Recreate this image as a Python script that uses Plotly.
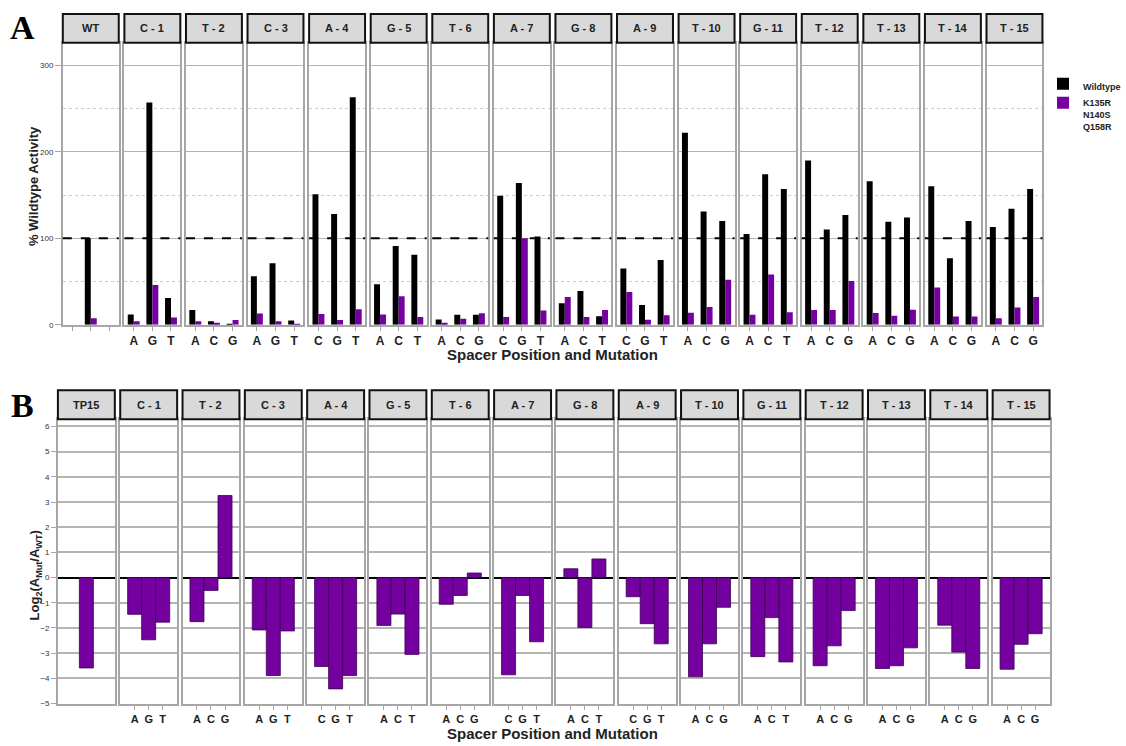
import plotly.graph_objects as go

# ---- data -------------------------------------------------------------
panels_a = ["WT", "C - 1", "T - 2", "C - 3", "A - 4", "G - 5", "T - 6", "A - 7",
            "G - 8", "A - 9", "T - 10", "G - 11", "T - 12", "T - 13", "T - 14", "T - 15"]
panels_b = ["TP15"] + panels_a[1:]

mutations = [["", "", ""],
             ["A", "G", "T"], ["A", "C", "G"], ["A", "G", "T"], ["C", "G", "T"],
             ["A", "C", "T"], ["A", "C", "G"], ["C", "G", "T"], ["A", "C", "T"],
             ["C", "G", "T"], ["A", "C", "G"], ["A", "C", "T"], ["A", "C", "G"],
             ["A", "C", "G"], ["A", "C", "G"], ["A", "C", "G"]]

# % wildtype activity of the wildtype enzyme
wildtype_activity = [[100],
                     [12, 257, 31], [17, 4, 0.5], [56, 71, 5], [151, 128, 263],
                     [47, 91, 81], [6, 11.5, 11.5], [149, 164, 102], [25, 39, 10],
                     [65, 23, 75], [222, 131, 120], [105, 174, 157], [190, 110, 127],
                     [166, 119, 124], [160, 77, 120], [113, 134, 157]]

# % wildtype activity of the K135R/N140S/Q158R variant
variant_activity = [[7.5],
                    [4, 46, 8.5], [4, 2.3, 5.5], [13, 4, 1], [12.5, 5.5, 18],
                    [12, 33, 9], [2.3, 7, 13.4], [9, 100, 16.5], [32, 9, 17],
                    [38, 5.7, 11], [14, 20.5, 52], [11.5, 58, 14.5], [17, 17, 50.5],
                    [13.5, 10.5, 17.5], [43, 9.5, 9.5], [7.5, 20, 32]]

# log2(A_mut / A_wt)
log2_ratio = [[-3.59],
              [-1.46, -2.47, -1.77], [-1.75, -0.51, 3.26], [-2.08, -3.89, -2.12],
              [-3.53, -4.42, -3.89], [-1.90, -1.45, -3.05], [-1.06, -0.71, 0.18],
              [-3.86, -0.71, -2.55], [0.35, -1.98, 0.74], [-0.76, -1.83, -2.63],
              [-3.94, -2.63, -1.18], [-3.14, -1.59, -3.35], [-3.50, -2.71, -1.31],
              [-3.61, -3.50, -2.79], [-1.89, -2.96, -3.61], [-3.64, -2.65, -2.23]]

series_names = ["Wildtype", "K135R<br>N140S<br>Q158R"]
y_ticks_a = [0, 100, 200, 300]
y_ticks_b = list(range(-5, 7))

# ---- styling / geometry ----------------------------------------------
W, H = 1126, 746
BLACK = "#000000"
PURPLE = "#7400A0"
GRID = "#b4b4b4"
FRAME = "#a6a6a6"
STRIP_FILL = "#d9d9d9"
FONT = "Liberation Sans, Arial, sans-serif"

A_X0, A_STEP, A_W = 64, 62.75, 57
A_TOP, A_BOT = 43, 327
A_STRIP = (14, 43)
B_X0, B_STEP, B_W = 59, 63.5, 58
B_TOP, B_BOT = 422, 709
B_STRIP = (393, 422)


def px_x(p):
    return p / W


def px_y(p):
    return 1 - p / H


def label(x, y, text, font, angle=0):
    """Centred paper-space text placed at pixel coordinates."""
    return dict(xref="paper", yref="paper", x=px_x(x), y=px_y(y),
                xanchor="center", yanchor="middle", text=text,
                showarrow=False, font=font, textangle=angle)


fig = go.Figure()
layout = {}
shapes = []
annotations = []
n_panels = len(panels_a)
strip_font = dict(family=FONT, size=11, color="#222")


def axis_names(n):
    return ("x" if n == 1 else f"x{n}", "y" if n == 1 else f"y{n}")


# ---- panel A: activity bars ------------------------------------------
for i in range(n_panels):
    n = i + 1
    xr, yr = axis_names(n)
    positions = [1] if i == 0 else list(range(len(mutations[i])))
    for name, vals, col in ((series_names[0], wildtype_activity[i], BLACK),
                            (series_names[1], variant_activity[i], PURPLE)):
        fig.add_trace(go.Bar(
            x=positions, y=vals, name=name, xaxis=xr, yaxis=yr,
            marker=dict(color=col, line=dict(width=0)),
            legendgroup=name, showlegend=(i == 0), hoverinfo="x+y",
        ))
    x0 = A_X0 + i * A_STEP
    layout[f"xaxis{n}"] = dict(
        domain=[px_x(x0), px_x(x0 + A_W)], range=[-0.5, 2.5], anchor=yr,
        tickvals=[0, 1, 2], ticktext=mutations[i], ticks="outside", ticklen=4,
        tickcolor=FRAME, showgrid=False, zeroline=False,
        showline=True, mirror=True, linecolor=FRAME, linewidth=1.5,
        tickfont=dict(family=FONT, size=12, color="#222", weight="bold"),
        fixedrange=True,
    )
    layout[f"yaxis{n}"] = dict(
        domain=[px_y(A_BOT), px_y(A_TOP)], range=[0, 326], anchor=xr,
        tickvals=y_ticks_a, showticklabels=(i == 0),
        ticks="outside" if i == 0 else "", ticklen=6, tickcolor=FRAME,
        tickfont=dict(family=FONT, size=8, color="#333"),
        showgrid=True, gridcolor=GRID, gridwidth=1.2,
        minor=dict(dtick=50, tick0=0, showgrid=True, gridcolor="#cccccc",
                   griddash="dot", gridwidth=1),
        zeroline=False, showline=True, mirror=True, linecolor=FRAME,
        linewidth=1.5, fixedrange=True,
    )
    # reference level at 100 %
    shapes.append(dict(type="line", xref=f"{xr} domain", yref=yr,
                       x0=0, x1=1, y0=100, y1=100,
                       line=dict(color=BLACK, width=2, dash="dash")))
    # facet strip
    shapes.append(dict(type="rect", xref="paper", yref="paper",
                       x0=px_x(x0), x1=px_x(x0 + A_W),
                       y0=px_y(A_STRIP[1]), y1=px_y(A_STRIP[0]),
                       fillcolor=STRIP_FILL, line=dict(color="#111", width=2)))
    annotations.append(label(x0 + A_W / 2, sum(A_STRIP) / 2,
                             f"<b>{panels_a[i]}</b>", strip_font))

# ---- panel B: log2 ratio bars ----------------------------------------
for i in range(n_panels):
    n = n_panels + i + 1
    xr, yr = axis_names(n)
    positions = [1] if i == 0 else list(range(len(mutations[i])))
    fig.add_trace(go.Bar(
        x=positions, y=log2_ratio[i], width=1.0, xaxis=xr, yaxis=yr,
        marker=dict(color=PURPLE, line=dict(width=0.8, color="#3a0050")),
        showlegend=False, hoverinfo="x+y",
    ))
    x0 = B_X0 + i * B_STEP
    layout[f"xaxis{n}"] = dict(
        domain=[px_x(x0), px_x(x0 + B_W)], range=[-1.03, 3.03], anchor=yr,
        tickvals=[0, 1, 2], ticktext=mutations[i],
        ticks="" if i == 0 else "outside", ticklen=4, tickcolor=FRAME,
        showgrid=False, zeroline=False,
        showline=True, mirror=True, linecolor=FRAME, linewidth=1.5,
        tickfont=dict(family=FONT, size=11, color="#222", weight="bold"),
        fixedrange=True,
    )
    layout[f"yaxis{n}"] = dict(
        domain=[px_y(B_BOT), px_y(B_TOP)], range=[-5.03, 6.29], anchor=xr,
        tickvals=y_ticks_b, showticklabels=(i == 0),
        ticks="outside" if i == 0 else "", ticklen=5, tickcolor=FRAME,
        tickfont=dict(family=FONT, size=8, color="#333"),
        showgrid=True, gridcolor=GRID, gridwidth=1.5,
        zeroline=True, zerolinecolor=BLACK, zerolinewidth=2,
        showline=True, mirror=True, linecolor=FRAME, linewidth=1.5,
        fixedrange=True,
    )
    shapes.append(dict(type="rect", xref="paper", yref="paper",
                       x0=px_x(x0), x1=px_x(x0 + B_W),
                       y0=px_y(B_STRIP[1]), y1=px_y(B_STRIP[0]),
                       fillcolor=STRIP_FILL, line=dict(color="#111", width=2)))
    annotations.append(label(x0 + B_W / 2, sum(B_STRIP) / 2,
                             f"<b>{panels_b[i]}</b>", strip_font))

# ---- titles and panel letters ----------------------------------------
title_font = dict(family=FONT, size=15, color="#222")
axis_font = dict(family=FONT, size=13, color="#222")
letter_font = dict(family="Liberation Serif, Times New Roman, serif", size=34, color="#000")
annotations += [
    label(563, 357, "<b>Spacer Position and Mutation</b>", title_font),
    label(563, 738, "<b>Spacer Position and Mutation</b>", title_font),
    label(34, 187, "<b>% Wildtype Activity</b>", axis_font, angle=-90),
    label(36, 579, "<b>Log<sub>2</sub>(A<sub>Mut</sub>/A<sub>WT</sub>)</b>", axis_font, angle=-90),
    label(23, 28, "<b>A</b>", letter_font),
    label(23, 408, "<b>B</b>", letter_font),
]

fig.update_layout(
    width=W, height=H, margin=dict(l=0, r=0, t=0, b=0),
    paper_bgcolor="white", plot_bgcolor="white",
    barmode="group", bargap=0.36, bargroupgap=0,
    showlegend=True,
    legend=dict(x=px_x(1063), y=px_y(72), xanchor="left", yanchor="top",
                font=dict(family=FONT, size=9, color="#222", weight="bold"),
                valign="top", tracegroupgap=0, itemwidth=30,
                bgcolor="rgba(0,0,0,0)"),
    shapes=shapes, annotations=annotations,
    **layout,
)

fig.write_html("out.html")
